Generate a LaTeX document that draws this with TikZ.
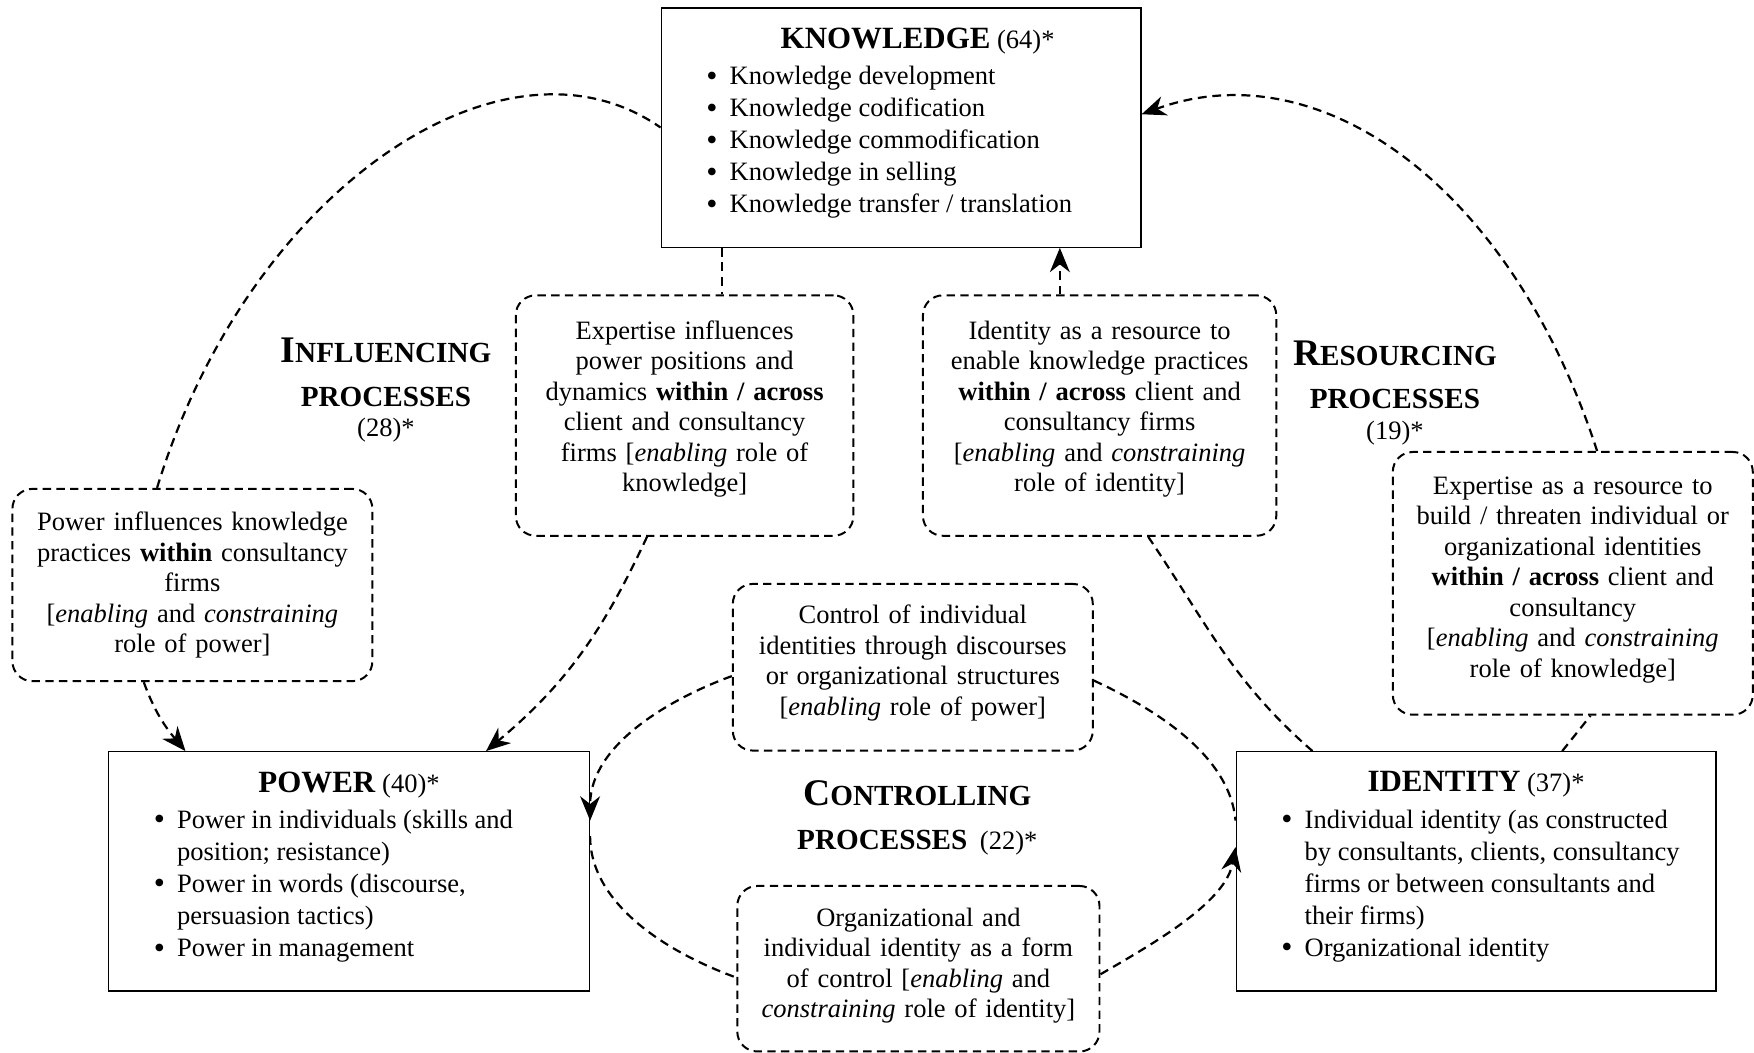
\documentclass[tikz,border=0pt]{standalone}
\usepackage{fontspec}
\setmainfont{Liberation Serif}
\usetikzlibrary{arrows.meta}

\newcommand{\boxhead}[3][0pt]{\vspace*{9pt}{\centering\hspace*{#1}\fontsize{14}{16}\selectfont\textbf{#2}\fontsize{12}{14.5}\selectfont\ (#3)*\par}\vspace{2pt}}
\newcommand{\boxitem}[1]{\par\noindent\hangindent=31pt\hangafter=1\hspace*{20.5pt}\makebox[10.5pt][l]{\raisebox{-0.6pt}{\scalebox{1.2}{\textbullet}}}#1\par}
\newcommand{\procword}[2]{{\fontsize{17}{19.7}\selectfont #1}{\fontsize{13.2}{19.7}\selectfont #2}}
\newcommand{\liftgap}[1]{\par\vspace{#1}}

\begin{document}
\begin{tikzpicture}[x=0.01779cm,y=0.01779cm,
    >={Stealth[length=11pt,width=9pt,inset=3.5pt]},
    mainbox/.style={draw,line width=0.6pt,inner sep=0pt,font=\fontsize{12}{14.5}\selectfont},
    procbox/.style={draw,line width=0.9pt,dash pattern=on 3.8pt off 2.4pt,rounded corners=9pt,
      align=center,text width=146pt,inner sep=2pt,font=\fontsize{12}{13.8}\selectfont},
    lift/.style={execute at end node={\liftgap{#1}}},
    proclabel/.style={align=center,text width=140pt,inner sep=0pt,font=\bfseries\fontsize{17}{19.7}\selectfont},
    link/.style={line width=1pt,dash pattern=on 4pt off 2.6pt}]
      \useasboundingbox (0,0) rectangle (1568,-941);

      \node[mainbox] (know) at (805.5,-114) {\begin{minipage}[c][108.3pt][t]{217.1pt}
        \boxhead[15pt]{KNOWLEDGE}{64}
        \boxitem{Knowledge development}
        \boxitem{Knowledge codification}
        \boxitem{Knowledge commodification}
        \boxitem{Knowledge in selling}
        \boxitem{Knowledge transfer / translation}
      \end{minipage}};
      \node[mainbox] (power) at (312,-779) {\begin{minipage}[c][108.3pt][t]{217.6pt}
        \boxhead{POWER}{40}
        \boxitem{Power in individuals (skills and\\position; resistance)}
        \boxitem{Power in words (discourse,\\persuasion tactics)}
        \boxitem{Power in management}
      \end{minipage}};
      \node[mainbox] (ident) at (1319.5,-779) {\begin{minipage}[c][108.3pt][t]{217.1pt}
        \boxhead{IDENTITY}{37}
        \boxitem{Individual identity (as constructed\\by consultants, clients, consultancy\\firms or between consultants and\\their firms)}
        \boxitem{Organizational identity}
      \end{minipage}};

      \node[procbox,lift=6pt,minimum width=152.8pt,minimum height=108.8pt] (expinf) at (612,-371.5)
        {Expertise influences\\power positions and\\dynamics \textbf{within / across}\\client and consultancy\\firms [\textit{enabling} role of\\knowledge]};
      \node[procbox,lift=6pt,minimum width=159.9pt,minimum height=108.8pt] (idres) at (983,-371.5)
        {Identity as a resource to\\enable knowledge practices\\\textbf{within / across} client and\\consultancy firms\\{[}\textit{enabling} and \textit{constraining}\\role of identity]};
      \node[procbox,minimum width=162.9pt,minimum height=87pt] (powinf) at (172,-523)
        {Power influences knowledge\\practices \textbf{within} consultancy\\firms\\{[}\textit{enabling} and \textit{constraining}\\role of power]};
      \node[procbox,lift=3pt,minimum width=162.9pt,minimum height=118.9pt] (expres) at (1406,-521.5)
        {Expertise as a resource to\\build / threaten individual or\\organizational identities\\\textbf{within / across} client and\\consultancy\\{[}\textit{enabling} and \textit{constraining}\\role of knowledge]};
      \node[procbox,lift=4pt,minimum width=162.9pt,minimum height=75.4pt] (ctrl) at (816,-596.5)
        {Control of individual\\identities through discourses\\or organizational structures\\{[}\textit{enabling} role of power]};
      \node[procbox,lift=3pt,minimum width=163.9pt,minimum height=74.9pt] (orgid) at (821,-866)
        {Organizational and\\individual identity as a form\\of control [\textit{enabling} and\\\textit{constraining} role of identity]};

      \node[proclabel] (infl) at (345,-349) {\procword{I}{NFLUENCING}\\\procword{}{PROCESSES}\\[-6pt]{\mdseries\fontsize{12}{14}\selectfont (28)*}};
      \node[proclabel] (resc) at (1247,-351) {\procword{R}{ESOURCING}\\\procword{}{PROCESSES}\\[-6pt]{\mdseries\fontsize{12}{14}\selectfont (19)*}};
      \node[proclabel] (contr) at (820,-731) {\procword{C}{ONTROLLING}\\\procword{}{PROCESSES}{\mdseries\fontsize{12}{14}\selectfont\ (22)*}};

      \draw[link] ([xshift=-16pt]powinf.north) to[out=73,in=145,out distance=142pt,in distance=86pt] (know.west);
      \draw[link,->] ([xshift=-22pt]powinf.south) to[out=-70,in=130] ([xshift=-74pt]power.north);
      \draw[link] ([xshift=-81pt]know.south) coordinate (k1) -- (k1 |- expinf.north);
      \draw[link,->] ([xshift=-17pt]expinf.south) to[out=-115,in=40] ([xshift=62pt]power.north);
      \draw[link] ([xshift=-74pt]ident.north) to[out=139,in=-56] ([xshift=22pt]idres.south);
      \draw[link,->] ([xshift=-18pt]idres.north) coordinate (i1) -- (i1 |- know.south);
      \draw[link] ([xshift=39pt]ident.north) -- ([xshift=8pt]expres.south);
      \draw[link,->] ([xshift=11pt]expres.north) to[out=108,in=20,out distance=126pt,in distance=86pt] ([yshift=6pt]know.east);
      \draw[link,->] ([yshift=-4pt]ctrl.west) to[out=200,in=90,out distance=28pt,in distance=35pt] ([yshift=23pt]power.east);
      \draw[link] ([yshift=16pt]power.east) to[out=-90,in=160,out distance=30pt,in distance=35pt] ([yshift=-4pt]orgid.west);
      \draw[link] ([yshift=-6pt]ctrl.east) to[out=-25,in=95,out distance=30pt,in distance=30pt] ([yshift=23pt]ident.west);
      \draw[link,->] ([yshift=-2.5pt]orgid.east) to[out=30,in=-100,out distance=30pt,in distance=25pt] ([yshift=11pt]ident.west);
    \end{tikzpicture}
\end{document}
